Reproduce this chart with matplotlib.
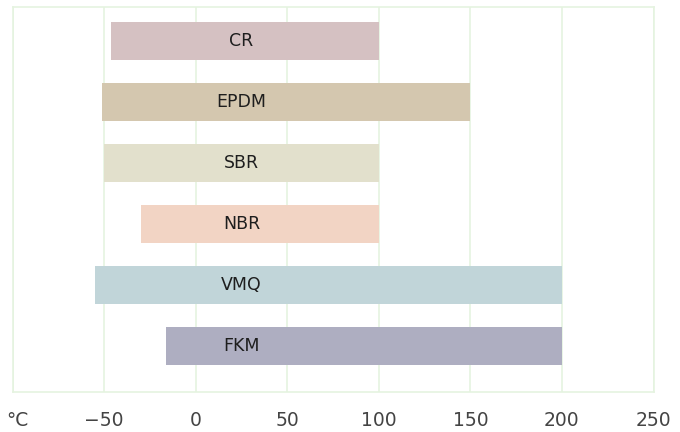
import matplotlib
matplotlib.use("Agg")
import matplotlib.pyplot as plt
from matplotlib.transforms import ScaledTranslation

materials = ["CR", "EPDM", "SBR", "NBR", "VMQ", "FKM"]
t_min = [-46, -51, -50, -30, -55, -16]
t_max = [100, 150, 100, 100, 200, 200]
colors = ["#d5c1c2", "#d4c7af", "#e2e0cc", "#f2d4c4", "#c1d5d9", "#aeaec1"]
tick_vals = [-100, -50, 0, 50, 100, 150, 200, 250]
tick_labels = ["°C", "−50", "0", "50", "100", "150", "200", "250"]
label_x = 25

fig = plt.figure(figsize=(6.8, 4.32), dpi=100)
ax = fig.add_axes([12.5/680, 1 - 392/432, 641/680, 385.5/432])

n = len(materials)
ys = [n - 1 - i for i in range(n)]
for y, lo, hi, c, name in zip(ys, t_min, t_max, colors, materials):
    ax.barh(y, hi - lo, left=lo, height=0.62, color=c, zorder=2)
    ax.text(label_x, y, name, ha="center", va="center", fontsize=12.5,
            color="#1e1e1e", zorder=3)

ax.set_xlim(-100, 250)
ax.set_ylim(-0.75, n - 1 + 0.57)
ax.set_xticks(tick_vals)
ax.set_xticklabels(tick_labels)
ax.set_yticks([])
ax.tick_params(axis="x", length=0, pad=14, labelsize=13.5, labelcolor="#444444")
ax.grid(axis="x", color="#e5f3e0", linewidth=1.2, zorder=0)
for s in ax.spines.values():
    s.set_color("#e5f3e0")
    s.set_linewidth(1.2)

first = ax.get_xticklabels()[0]
first.set_transform(first.get_transform() + ScaledTranslation(5/100, 0, fig.dpi_scale_trans))

fig.savefig("out.png", dpi=100)
